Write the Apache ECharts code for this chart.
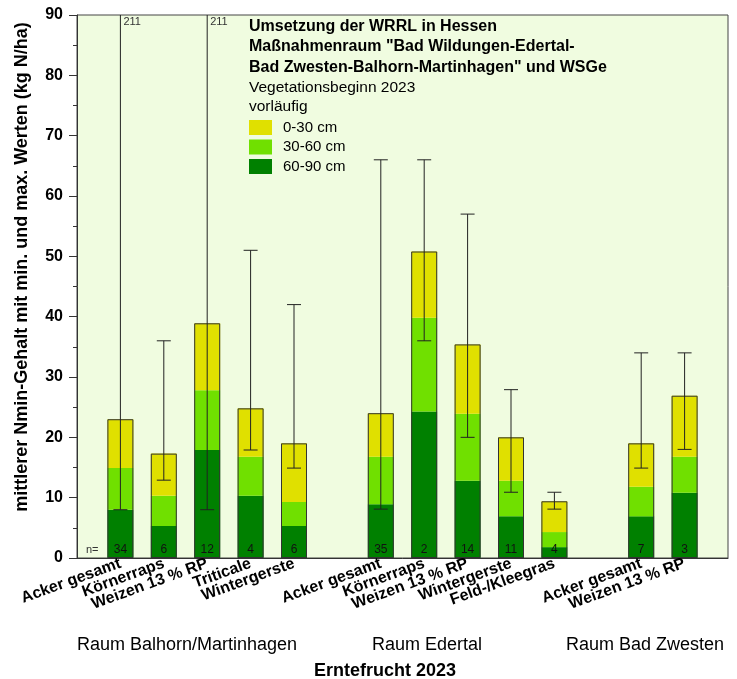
<!DOCTYPE html>
<html>
<head>
<meta charset="utf-8">
<script src="https://cdn.jsdelivr.net/npm/echarts@6/dist/echarts.min.js"></script>
<style>
html,body{margin:0;padding:0;background:#fff;}
#c{width:737px;height:679px;}
</style>
</head>
<body>
<div id="c"></div>
<script>
// ---- data ----
const categories = ['', 'Acker gesamt', 'Körnerraps', 'Weizen 13 % RP', 'Triticale', 'Wintergerste', '',
  'Acker gesamt', 'Körnerraps', 'Weizen 13 % RP', 'Wintergerste', 'Feld-/Kleegras', '',
  'Acker gesamt', 'Weizen 13 % RP', ''];
const layer60_90 = [null, 8.0, 5.3, 17.9, 10.3, 5.3, null, 8.9, 24.3, 12.8, 6.9, 1.8, null, 6.9, 10.8, null];
const layer30_60 = [null, 6.9, 5.0, 9.9, 6.5, 4.0, null, 7.9, 15.5, 11.1, 5.9, 2.5, null, 4.9, 6.0, null];
const layer0_30  = [null, 8.1, 7.0, 11.1, 8.0, 9.7, null, 7.2, 11.0, 11.5, 7.2, 5.1, null, 7.2, 10.1, null];
const minValues  = [null, 8.0, 12.9, 8.0, 17.9, 14.9, null, 8.1, 36.0, 20.0, 10.9, 8.1, null, 14.9, 18.0, null];
const maxValues  = [null, 211, 36, 211, 51, 42, null, 66, 66, 57, 27.9, 10.9, null, 34, 34, null];
const nCounts    = [null, 34, 6, 12, 4, 6, null, 35, 2, 14, 11, 4, null, 7, 3, null];
const yTicks = [0, 10, 20, 30, 40, 50, 60, 70, 80, 90];
const groupLabels = ['Raum Balhorn/Martinhagen', 'Raum Edertal', 'Raum Bad Zwesten'];
const legendNames = ['0-30 cm', '30-60 cm', '60-90 cm'];
const titleLines = ['Umsetzung der WRRL in Hessen', 'Maßnahmenraum "Bad Wildungen-Edertal-',
  'Bad Zwesten-Balhorn-Martinhagen" und WSGe'];
const subLines = ['Vegetationsbeginn 2023', 'vorläufig'];
const yAxisTitle = 'mittlerer Nmin-Gehalt mit min. und max. Werten (kg N/ha)';
const xAxisTitle = 'Erntefrucht 2023';

// ---- derived ----
const yMax = yTicks[yTicks.length - 1];
const totals = layer60_90.map((v, i) => v == null ? null : +(v + layer30_60[i] + layer0_30[i]).toFixed(2));
const errData = [];
minValues.forEach((m, i) => { if (m != null) errData.push([i, m, maxValues[i]]); });

const FONT = 'Arial, "Liberation Sans", sans-serif';
const C_YEL = '#E0E000', C_LG = '#70E000', C_DG = '#008000';

const chart = echarts.init(document.getElementById('c'), null, {renderer: 'canvas'});

const option = {
  backgroundColor: '#ffffff',
  animation: false,
  textStyle: {fontFamily: FONT},
  title: {
    left: 249, top: 16, padding: 0,
    text: titleLines.map(t => '{b|' + t + '}').join('\n') + '\n' + subLines.map(t => '{n|' + t + '}').join('\n'),
    textStyle: {
      rich: {
        b: {fontFamily: FONT, fontWeight: 'bold', fontSize: 16, lineHeight: 20.5, color: '#000'},
        n: {fontFamily: FONT, fontWeight: 'normal', fontSize: 15.5, lineHeight: 19.5, color: '#000'}
      }
    }
  },
  legend: {
    orient: 'vertical', left: 249, top: 120, padding: 0,
    itemWidth: 23, itemHeight: 15, itemGap: 4.5,
    icon: 'rect',
    data: legendNames,
    selectedMode: false,
    textStyle: {fontFamily: FONT, fontSize: 15, color: '#000', padding: [0, 0, 0, 6]}
  },
  grid: {
    left: 77, right: 9, top: 15, bottom: 121,
    show: true, backgroundColor: '#F0FCE0', borderColor: '#444', borderWidth: 1
  },
  xAxis: {
    type: 'category',
    data: categories.map((c, i) => String(i)),
    boundaryGap: false,
    axisLine: {show: true, lineStyle: {color: '#333', width: 1}},
    axisTick: {show: false},
    splitLine: {show: false},
    axisLabel: {
      interval: 0, rotate: 20, margin: 5,
      fontFamily: FONT, fontWeight: 'bold', fontSize: 16, color: '#000',
      formatter: (v, i) => categories[i]
    }
  },
  yAxis: {
    type: 'value', min: 0, max: yMax, interval: yTicks[1] - yTicks[0],
    axisLine: {show: true, lineStyle: {color: '#333', width: 1}},
    axisTick: {show: true, inside: false, length: 8, lineStyle: {color: '#333'}},
    minorTick: {show: true, splitNumber: 2, length: 4, lineStyle: {color: '#333'}},
    splitLine: {show: false},
    axisLabel: {margin: 14, fontFamily: FONT, fontWeight: 'bold', fontSize: 16, color: '#000'}
  },
  series: [
    {
      name: '60-90 cm', type: 'bar', stack: 'n', barWidth: 26, data: layer60_90,
      itemStyle: {color: C_DG},
      label: {
        show: true, position: 'insideBottom', distance: 2,
        fontFamily: FONT, fontSize: 12, color: '#111',
        formatter: p => nCounts[p.dataIndex] == null ? '' : String(nCounts[p.dataIndex])
      },
      z: 2
    },
    {name: '30-60 cm', type: 'bar', stack: 'n', barWidth: 26, data: layer30_60, itemStyle: {color: C_LG}, z: 2},
    {name: '0-30 cm', type: 'bar', stack: 'n', barWidth: 26, data: layer0_30, itemStyle: {color: C_YEL}, z: 2},
    {
      name: 'outline', type: 'bar', barWidth: 26, barGap: '-100%', data: totals,
      itemStyle: {color: 'rgba(0,0,0,0)', borderColor: '#333', borderWidth: 1},
      z: 3, silent: true
    },
    {
      name: 'range', type: 'custom', z: 4, silent: true,
      data: errData,
      encode: {x: 0, y: [1, 2]},
      renderItem: function (params, api) {
        const x = api.value(0), lo = api.value(1), hi = api.value(2);
        const pLo = api.coord([x, lo]);
        const pHi = api.coord([x, Math.min(hi, yMax)]);
        const half = 7;
        const st = {stroke: '#222', lineWidth: 1};
        const children = [
          {type: 'line', shape: {x1: pLo[0], y1: pLo[1], x2: pHi[0], y2: pHi[1]}, style: st},
          {type: 'line', shape: {x1: pLo[0] - half, y1: pLo[1], x2: pLo[0] + half, y2: pLo[1]}, style: st}
        ];
        if (hi <= yMax) {
          children.push({type: 'line', shape: {x1: pHi[0] - half, y1: pHi[1], x2: pHi[0] + half, y2: pHi[1]}, style: st});
        } else {
          children.push({type: 'text', x: pHi[0] + 3, y: pHi[1] + 1,
            style: {text: String(hi), fontFamily: FONT, fontSize: 11, fill: '#333', textAlign: 'left', textVerticalAlign: 'top'}});
        }
        return {type: 'group', children: children};
      }
    }
  ],
  graphic: [
    {type: 'text', x: 22, y: 267, rotation: Math.PI / 2,
      style: {text: yAxisTitle, fontFamily: FONT, fontWeight: 'bold', fontSize: 18, fill: '#000', textAlign: 'center', textVerticalAlign: 'middle'}},
    {type: 'text', x: 86, y: 550,
      style: {text: 'n=', fontFamily: FONT, fontSize: 11, fill: '#333', textAlign: 'left', textVerticalAlign: 'middle'}},
    {type: 'text', x: 187, y: 645,
      style: {text: groupLabels[0], fontFamily: FONT, fontSize: 18, fill: '#000', textAlign: 'center', textVerticalAlign: 'middle'}},
    {type: 'text', x: 427, y: 645,
      style: {text: groupLabels[1], fontFamily: FONT, fontSize: 18, fill: '#000', textAlign: 'center', textVerticalAlign: 'middle'}},
    {type: 'text', x: 645, y: 645,
      style: {text: groupLabels[2], fontFamily: FONT, fontSize: 18, fill: '#000', textAlign: 'center', textVerticalAlign: 'middle'}},
    {type: 'text', x: 385, y: 671,
      style: {text: xAxisTitle, fontFamily: FONT, fontWeight: 'bold', fontSize: 18, fill: '#000', textAlign: 'center', textVerticalAlign: 'middle'}}
  ]
};
chart.setOption(option);
</script>
</body>
</html>
